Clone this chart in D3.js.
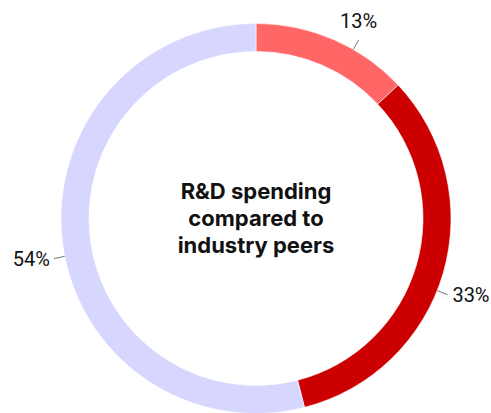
<!DOCTYPE html>
<html>
<head>
<meta charset="utf-8">
<script src="https://cdn.jsdelivr.net/npm/d3@7"></script>
<style>
  html, body { margin: 0; padding: 0; background: #fff; }
  svg { display: block; }
</style>
</head>
<body>
<svg id="chart"></svg>
<script>
const WIDTH = 491;
const HEIGHT = 413;

// data
const categories = ["Higher", "Same", "Lower"];
const shares = [13, 33, 54];
const labels = ["13%", "33%", "54%"];
const colors = ["#ff6666", "#cc0000", "#d6d6ff"];
const centerLines = ["R&D spending", "compared to", "industry peers"];

// layout
const CX = 256, CY = 218.5;
const OUTER = 195, INNER = 167;
const LEADER = 11;
const labelNudge = [6.5, 5.5, -4]; // degrees, label placement tweak

const svg = d3.select("#chart")
    .attr("width", WIDTH)
    .attr("height", HEIGHT);

const g = svg.append("g").attr("transform", `translate(${CX},${CY})`);

const pie = d3.pie().sort(null).value(d => d)(shares);
const arc = d3.arc().innerRadius(INNER).outerRadius(OUTER);

g.selectAll("path.slice")
    .data(pie)
    .enter()
    .append("path")
    .attr("class", "slice")
    .attr("d", arc)
    .attr("fill", (d, i) => colors[i])
    .attr("stroke", "#fff")
    .attr("stroke-width", 0.6);

function polar(r, a){
    return [r * Math.sin(a), -r * Math.cos(a)];
}

pie.forEach((d, i) => {
    const a = (d.startAngle + d.endAngle) / 2 + labelNudge[i] * Math.PI / 180;
    const p0 = polar(OUTER, a);
    const p1 = polar(OUTER + LEADER, a);
    g.append("line")
        .attr("x1", p0[0]).attr("y1", p0[1])
        .attr("x2", p1[0]).attr("y2", p1[1])
        .attr("stroke", "#777")
        .attr("stroke-width", 1);

    const t = g.append("text")
        .text(labels[i])
        .attr("font-family", "Roboto, 'Noto Sans', sans-serif")
        .attr("font-weight", 400)
        .attr("font-size", 20)
        .attr("fill", "#111");
    if (Math.abs(Math.sin(a)) < 0.6){
        t.attr("x", p1[0]).attr("y", p1[1] - (Math.cos(a) > 0 ? 12 : -22))
         .attr("text-anchor", "middle");
    } else {
        const right = Math.sin(a) > 0;
        t.attr("x", p1[0] + (right ? 5 : -4)).attr("y", p1[1])
         .attr("dy", "0.35em")
         .attr("text-anchor", right ? "start" : "end");
    }
});

const ct = g.append("text")
    .attr("text-anchor", "middle")
    .attr("font-family", "Inter, 'Noto Sans', sans-serif")
    .attr("font-weight", 700)
    .attr("font-size", 22)
    .attr("fill", "#111");

centerLines.forEach((s, i) => {
    ct.append("tspan")
        .attr("x", 0)
        .attr("y", (i - 1) * 27 + 7.5)
        .text(s);
});
</script>
</body>
</html>
